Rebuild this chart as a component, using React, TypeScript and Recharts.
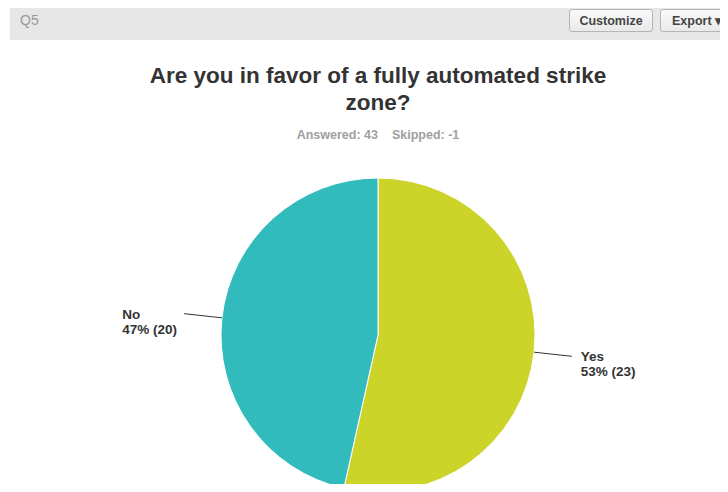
import { PieChart, Pie, Cell } from 'recharts';

const answers = ['Yes', 'No'];
const counts = [23, 20];
const colors = ['#ccd42a', '#32bbbd'];
const answered = 43;
const skipped = -1;

const data = answers.map((name, i) => ({ name, value: counts[i] }));
const total = counts.reduce((s, v) => s + v, 0);

const RADIAN = Math.PI / 180;
const font = '"Liberation Sans", Arial, sans-serif';

function renderLabel(props: any) {
  const { cx, cy, midAngle, outerRadius, name, value } = props;
  const cos = Math.cos(-midAngle * RADIAN);
  const sin = Math.sin(-midAngle * RADIAN);
  const sx = cx + outerRadius * cos;
  const sy = cy + outerRadius * sin;
  const ex = cx + (outerRadius + 38) * cos;
  const ey = cy + (outerRadius + 38) * sin;
  const right = cos >= 0;
  const tx = right ? ex + 9 : ex - 62;
  const pct = Math.round((value / total) * 100);
  return (
    <g>
      <line x1={sx} y1={sy} x2={ex} y2={ey} stroke="#333" strokeWidth={1} />
      <text x={tx} y={ey} fontFamily={font} fontSize={13.5} fontWeight="bold" fill="#333" dominantBaseline="central">
        <tspan x={tx} dy={0}>{name}</tspan>
        <tspan x={tx} dy={15}>{`${pct}% (${value})`}</tspan>
      </text>
    </g>
  );
}

export default function App() {
  return (
    <div style={{ position: 'relative', width: 728, height: 492, margin: -8, overflow: 'hidden', background: '#fff', fontFamily: font }}>
      {/* header bar */}
      <div style={{ position: 'absolute', left: 10, top: 4, width: 718, height: 36, background: '#e7e7e7' }} />
      <div style={{ position: 'absolute', left: 20, top: 12, fontSize: 14, color: '#999' }}>Q5</div>
      <div style={{ position: 'absolute', left: 569, top: 9, width: 84, height: 23, border: '1px solid #b5b5b5', borderRadius: 3, background: 'linear-gradient(#fafafa, #e9e9e9)', fontSize: 12.5, fontWeight: 'bold', color: '#444', textAlign: 'center', lineHeight: '23px', boxSizing: 'border-box' }}>Customize</div>
      <div style={{ position: 'absolute', left: 660, top: 9, width: 80, height: 23, border: '1px solid #b5b5b5', borderRadius: 3, background: 'linear-gradient(#fafafa, #e9e9e9)', fontSize: 12.5, fontWeight: 'bold', color: '#444', lineHeight: '23px', paddingLeft: 11, boxSizing: 'border-box' }}>Export ▾</div>
      {/* title */}
      <div style={{ position: 'absolute', left: 0, top: 62, width: 756, textAlign: 'center', fontSize: 22.5, fontWeight: 'bold', color: '#333', lineHeight: '27px' }}>
        Are you in favor of a fully automated strike<br />zone?
      </div>
      <div style={{ position: 'absolute', left: 0, top: 128, width: 756, textAlign: 'center', fontSize: 12.5, fontWeight: 'bold', color: '#a0a0a0' }}>
        Answered: {answered}&nbsp;&nbsp;&nbsp;&nbsp;Skipped: {skipped}
      </div>
      <div style={{ position: 'absolute', left: 0, top: 0 }}>
        <PieChart width={728} height={492} margin={{ top: 0, right: 0, bottom: 0, left: 0 }}>
          <Pie
            data={data}
            dataKey="value"
            nameKey="name"
            cx={378}
            cy={335}
            outerRadius={157}
            startAngle={90}
            endAngle={-270}
            stroke="#ffffff"
            strokeWidth={1}
            label={renderLabel}
            labelLine={false}
            isAnimationActive={false}
          >
            {data.map((entry, i) => (
              <Cell key={`cell-${entry.name}`} fill={colors[i]} />
            ))}
          </Pie>
        </PieChart>
      </div>
    </div>
  );
}
